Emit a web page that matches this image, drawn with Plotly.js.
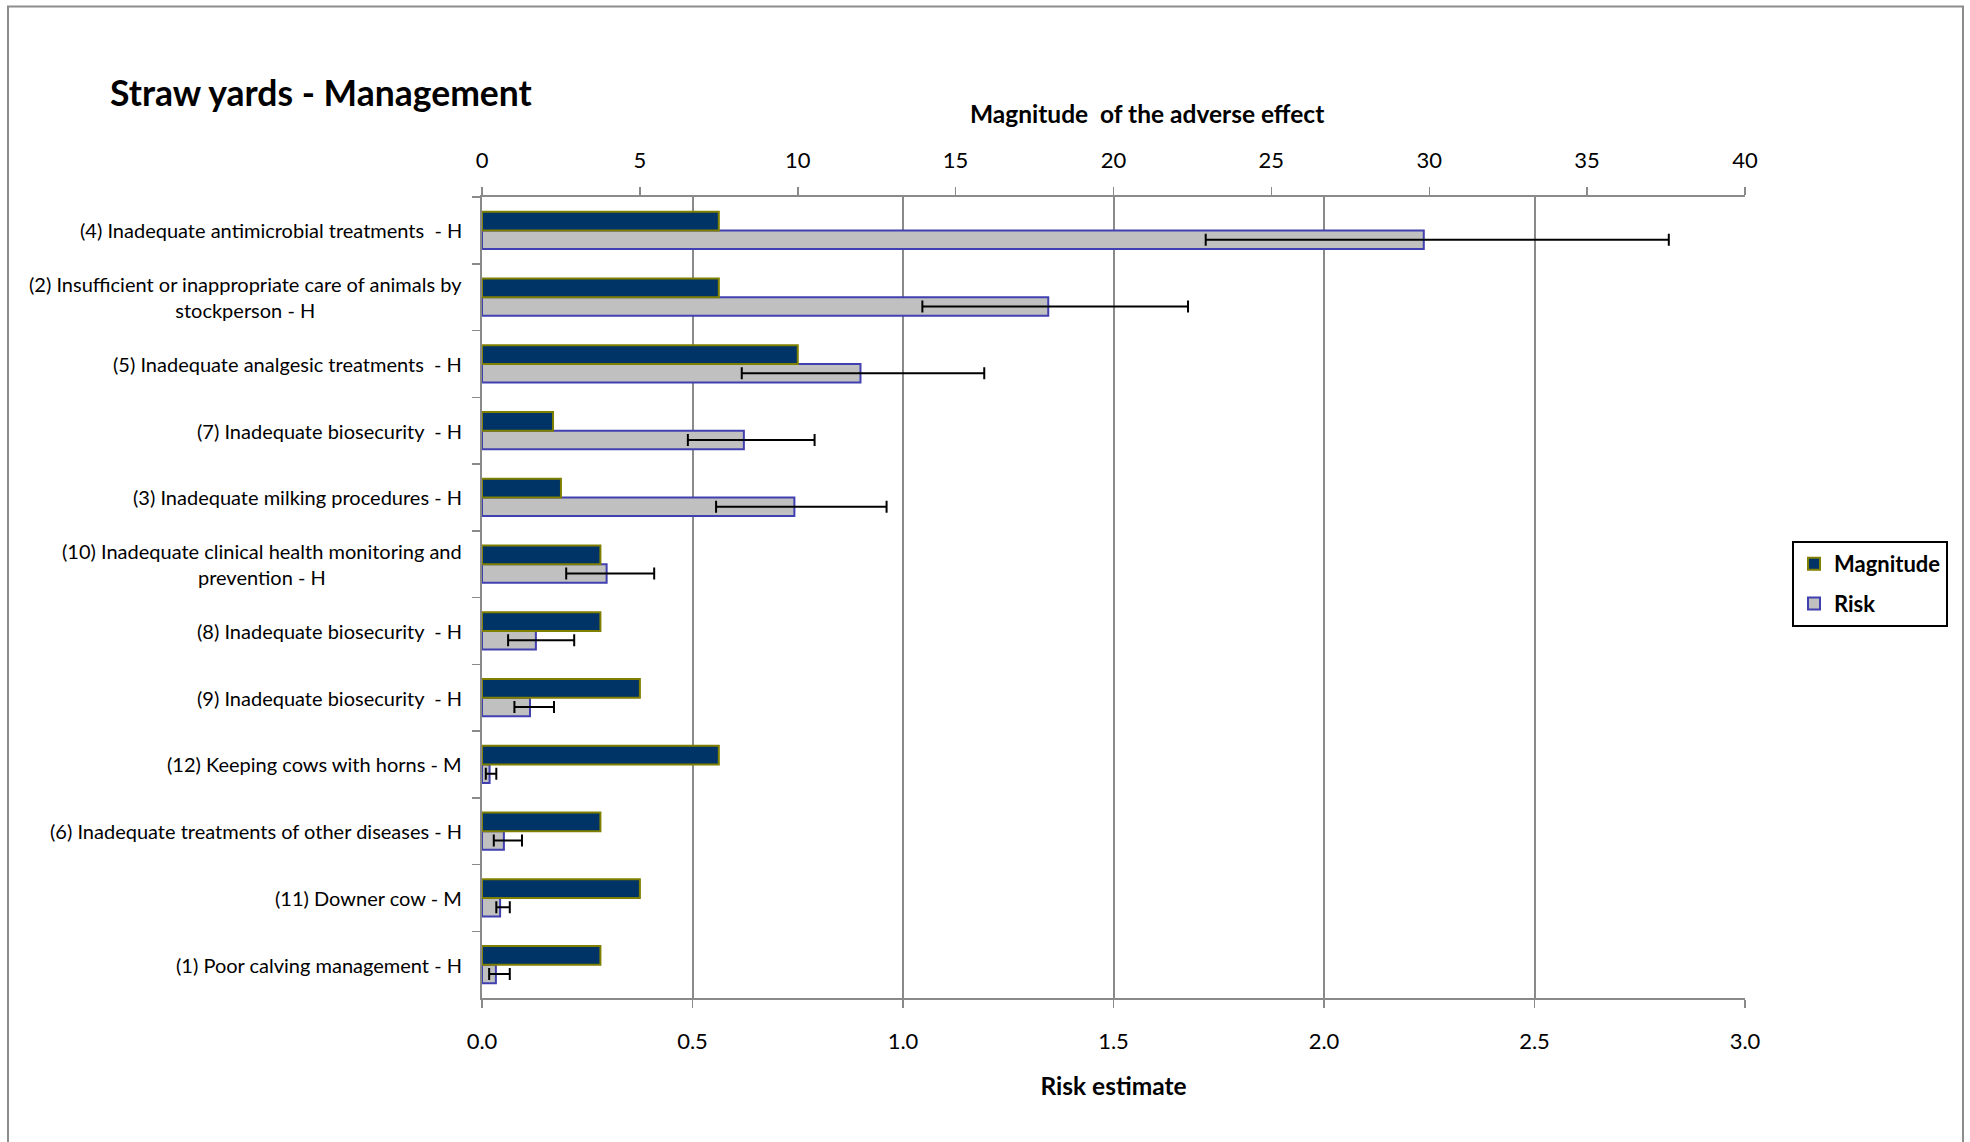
<!DOCTYPE html>
<html>
<head>
<meta charset="utf-8">
<script src="https://cdn.plot.ly/plotly-3.0.1.min.js"></script>
<style>
  html, body { margin: 0; padding: 0; background: #ffffff; }
  #chart { width: 1970px; height: 1142px; }
</style>
</head>
<body>
<div id="chart"></div>
<script>
// ---- Data, top to bottom ----
const categories = [
  "(4) Inadequate antimicrobial treatments  - H",
  "(2) Insufficient or inappropriate care of animals by<br>stockperson - H",
  "(5) Inadequate analgesic treatments  - H",
  "(7) Inadequate biosecurity  - H",
  "(3) Inadequate milking procedures - H",
  "(10) Inadequate clinical health monitoring and<br>prevention - H",
  "(8) Inadequate biosecurity  - H",
  "(9) Inadequate biosecurity  - H",
  "(12) Keeping cows with horns - M",
  "(6) Inadequate treatments of other diseases - H",
  "(11) Downer cow - M",
  "(1) Poor calving management - H"
];
const magnitude = [7.5, 7.5, 10, 2.25, 2.5, 3.75, 3.75, 5, 7.5, 3.75, 5, 3.75];
const risk      = [2.237, 1.345, 0.899, 0.622, 0.742, 0.296, 0.128, 0.114, 0.018, 0.052, 0.043, 0.033];
const riskLow   = [1.719, 1.046, 0.617, 0.489, 0.556, 0.200, 0.062, 0.077, 0.009, 0.028, 0.034, 0.017];
const riskHigh  = [2.819, 1.677, 1.193, 0.790, 0.961, 0.409, 0.219, 0.171, 0.034, 0.095, 0.066, 0.066];
const magnitudeTicks = [0, 5, 10, 15, 20, 25, 30, 35, 40];
const riskTicks = [0, 0.5, 1, 1.5, 2, 2.5, 3];

const FONT = 'Lato, "Open Sans", "DejaVu Sans", sans-serif';
const GRAY = '#8a8a8a';

const errPlus  = risk.map((v, i) => riskHigh[i] - v);
const errMinus = risk.map((v, i) => v - riskLow[i]);

const traces = [
  {
    type: 'bar', orientation: 'h', name: 'Magnitude',
    x: magnitude, y: categories, xaxis: 'x2', yaxis: 'y',
    width: 0.28, offset: -0.28,
    marker: { color: '#003366', line: { color: '#808000', width: 2 } },
    legendgroup: 'm', hoverinfo: 'x+y'
  },
  {
    type: 'bar', orientation: 'h', name: 'Risk',
    x: risk, y: categories, xaxis: 'x', yaxis: 'y',
    width: 0.28, offset: 0,
    marker: { color: '#c0c0c0', line: { color: '#4040b0', width: 2 } },
    error_x: { type: 'data', symmetric: false, array: errPlus, arrayminus: errMinus,
               color: '#000000', thickness: 2, width: 6 },
    legendgroup: 'r', hoverinfo: 'x+y'
  }
];

const W = 1263, H = 801, L = 482, T = 197;

const annotations = categories.map(c => ({
  xref: 'paper', yref: 'y', x: 0, y: c, xanchor: 'right', yanchor: 'middle',
  xshift: -18, text: c, showarrow: false, align: 'center',
  font: { family: FONT, size: 20, color: '#000000' }
}));
annotations.push({
  xref: 'paper', yref: 'paper', x: (1147 - L) / W, y: (T + H - 114) / H,
  xanchor: 'center', yanchor: 'middle', showarrow: false,
  text: 'Magnitude  of the adverse effect',
  font: { family: FONT, size: 24.5, weight: 'bold', color: '#000000' }
});

const layout = {
  width: 1970, height: 1142,
  margin: { l: L, r: 1970 - L - W, t: T, b: 1142 - T - H, pad: 0 },
  paper_bgcolor: '#ffffff', plot_bgcolor: '#ffffff',
  font: { family: FONT, color: '#000000' },
  showlegend: true,
  barmode: 'overlay',
  title: {
    text: 'Straw yards - Management',
    font: { family: FONT, size: 35.5, weight: 'bold', color: '#000000' },
    xref: 'container', yref: 'container',
    x: 110 / 1970, xanchor: 'left', y: 1 - 94 / 1142, yanchor: 'middle'
  },
  xaxis: {
    range: [0, 3], tickvals: riskTicks, tickformat: '.1f',
    side: 'bottom', showgrid: true, gridcolor: GRAY, gridwidth: 2,
    zeroline: false, showline: true, linecolor: GRAY, linewidth: 2,
    ticks: 'outside', ticklen: 8, tickcolor: GRAY, tickwidth: 1.5,
    ticklabelstandoff: 15,
    tickfont: { family: FONT, size: 22, color: '#000000' },
    title: { text: 'Risk estimate', standoff: 24,
             font: { family: FONT, size: 24.5, weight: 'bold', color: '#000000' } },
    fixedrange: true
  },
  xaxis2: {
    range: [0, 40], tickvals: magnitudeTicks,
    overlaying: 'x', side: 'top', anchor: 'y',
    showgrid: false, zeroline: false, showline: true, linecolor: GRAY, linewidth: 2,
    ticks: 'outside', ticklen: 8, tickcolor: GRAY, tickwidth: 1.5,
    ticklabelstandoff: 10,
    tickfont: { family: FONT, size: 22, color: '#000000' },
    fixedrange: true
  },
  yaxis: {
    type: 'category', categoryorder: 'array', categoryarray: categories,
    autorange: 'reversed',
    showticklabels: false, showgrid: false, zeroline: false,
    showline: true, linecolor: GRAY, linewidth: 2,
    ticks: 'outside', tickson: 'boundaries', ticklen: 8, tickcolor: GRAY, tickwidth: 1.5,
    fixedrange: true
  },
  legend: {
    x: (1792 - L) / W, y: (T + H - 541) / H, xanchor: 'left', yanchor: 'top',
    bgcolor: '#ffffff', bordercolor: '#000000', borderwidth: 2,
    font: { family: FONT, size: 22, weight: 'bold', color: '#000000' },
    traceorder: 'grouped', tracegroupgap: 8
  },
  annotations: annotations,
  shapes: [{
    type: 'rect', xref: 'paper', yref: 'paper', layer: 'below',
    x0: (8 - L) / W, x1: (1963 - L) / W,
    y0: (T + H - 1170) / H, y1: (T + H - 6.5) / H,
    line: { color: '#8c8c8c', width: 2 }, fillcolor: 'rgba(0,0,0,0)'
  }]
};

Plotly.newPlot('chart', traces, layout, { staticPlot: true, displayModeBar: false });
</script>
</body>
</html>
